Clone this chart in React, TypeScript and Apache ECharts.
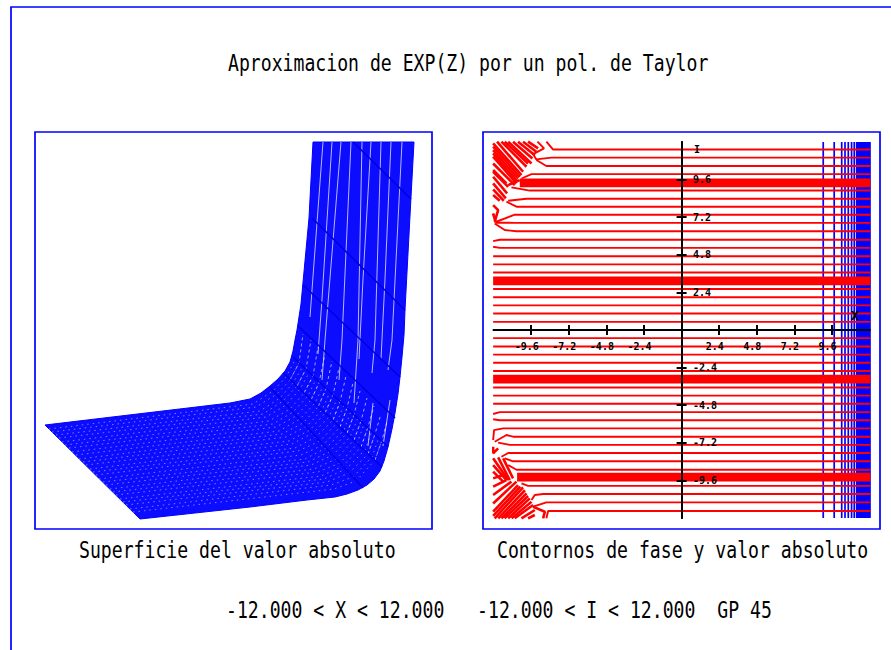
import React, { useEffect, useRef } from "react";
import * as echarts from "echarts";

type P = [number, number];

const BLUE = "#0000ff";
const RED = "#ff0000";

// ---- texts ----
const titleText = "Aproximacion de EXP(Z) por un pol. de Taylor";
const leftCaption = "Superficie del valor absoluto";
const rightCaption = "Contornos de fase y valor absoluto";
const rangeText = "-12.000 < X < 12.000   -12.000 < I < 12.000  GP 45";

// ---- right panel: axis ticks ----
const xTicks = [-9.6, -7.2, -4.8, -2.4, 2.4, 4.8, 7.2, 9.6];
const yTicks = [-9.6, -7.2, -4.8, -2.4, 2.4, 4.8, 7.2, 9.6];

// ---- right panel: absolute-value contours (x = const) ----
const modulusX = [9.04, 9.74, 10.22, 10.43, 10.64, 10.85, 11.02];
const modulusDenseX = [11.25, 11.42, 11.6, 11.78, 11.95];

// ---- right panel: phase contours, each with the bent part read from its left end ----
const phaseLines: { y: number; lead: P[] }[] = [
  { y: 11.52, lead: [[-8.63, 12.02], [-8.2, 11.52]] },
  { y: 11.0, lead: [[-9.2, 12.02], [-8.78, 11.59], [-9.48, 11.23], [-9.27, 10.89], [-8.31, 11.0]] },
  { y: 10.47, lead: [[-9.27, 10.85], [-8.63, 10.47]] },
  { y: 9.95, lead: [[-10.22, 9.67], [-9.58, 9.95]] },
  { y: 8.9, lead: [[-10.86, 9.1], [-9.69, 8.9]] },
  { y: 8.38, lead: [[-11.07, 8.25], [-9.9, 8.38]] },
  { y: 7.87, lead: [[-11.18, 8.19], [-10.54, 7.87]] },
  { y: 7.36, lead: [[-11.82, 6.91], [-10.65, 7.36]] },
  { y: 6.84, lead: [[-11.86, 6.85], [-10.65, 6.84]] },
  { y: 6.3, lead: [[-11.93, 6.8], [-11.29, 6.38], [-10.54, 6.3]] },
  { y: 5.76, lead: [[-12.03, 5.67], [-11.6, 5.76]] },
  { y: 5.24, lead: [[-12.03, 5.31], [-11.6, 5.24]] },
  { y: 4.71, lead: [[-12.03, 4.71]] },
  { y: 4.19, lead: [[-12.03, 4.19]] },
  { y: 3.67, lead: [[-12.03, 3.67]] },
  { y: 2.62, lead: [[-12.03, 2.62]] },
  { y: 2.09, lead: [[-12.03, 2.09]] },
  { y: 1.57, lead: [[-12.03, 1.57]] },
  { y: 1.05, lead: [[-12.03, 1.05]] },
  { y: 0.52, lead: [[-12.03, 0.52]] },
  { y: 0, lead: [[-12.03, 0]] },
  { y: -0.52, lead: [[-12.03, -0.52]] },
  { y: -1.05, lead: [[-12.03, -1.05]] },
  { y: -1.57, lead: [[-12.03, -1.57]] },
  { y: -2.09, lead: [[-12.03, -2.09]] },
  { y: -2.62, lead: [[-12.03, -2.62]] },
  { y: -3.67, lead: [[-12.03, -3.67]] },
  { y: -4.19, lead: [[-12.03, -4.19]] },
  { y: -4.71, lead: [[-12.03, -4.71]] },
  { y: -5.24, lead: [[-12.03, -5.36], [-11.61, -5.24]] },
  { y: -5.76, lead: [[-12.03, -5.7], [-11.61, -5.76]] },
  { y: -6.28, lead: [[-12.03, -7.02], [-11.97, -6.39], [-11.39, -6.28]] },
  { y: -6.81, lead: [[-11.93, -7.13], [-11.18, -6.7], [-10.76, -6.81]] },
  { y: -7.33, lead: [[-11.71, -7.19], [-10.97, -7.33]] },
  { y: -7.85, lead: [[-11.5, -8.09], [-11.07, -7.85]] },
  { y: -8.38, lead: [[-11.29, -8.19], [-10.76, -8.38]] },
  { y: -8.92, lead: [[-11.07, -8.62], [-10.54, -8.92]] },
  { y: -9.95, lead: [[-10.22, -9.79], [-9.8, -9.95]] },
  { y: -10.47, lead: [[-9.58, -10.85], [-9.37, -10.53], [-8.84, -10.47]] },
  { y: -11.0, lead: [[-9.48, -11.28], [-8.63, -11.0]] },
  { y: -11.55, lead: [[-8.63, -12.02], [-8.52, -11.55]] },
];
const phaseBands: P[] = [
  [-10.33, 9.39],
  [-12.03, 3.13],
  [-12.03, -3.14],
  [-10.5, -9.39],
];
const phaseEndX = 12.05;

// ---- right panel: the tangled corners ----
const tangles: P[][] = [
  [[-12.03, 11.91], [-10.22, 9.89]],
  [[-12.03, 11.7], [-10.33, 9.78]],
  [[-12.03, 11.48], [-10.44, 9.67]],
  [[-12.03, 11.27], [-10.49, 9.5]],
  [[-12.03, 11.06], [-10.54, 9.36]],
  [[-12.03, 10.63], [-10.65, 9.25]],
  [[-12.03, 10.21], [-11.18, 9.36]],
  [[-11.78, 12.02], [-10.12, 10.1]],
  [[-11.5, 12.02], [-9.9, 10.42]],
  [[-11.29, 12.02], [-9.8, 10.63]],
  [[-11.07, 12.02], [-9.58, 10.63]],
  [[-10.76, 12.02], [-9.52, 10.95]],
  [[-10.44, 12.02], [-9.37, 11.16]],
  [[-10.12, 12.02], [-9.27, 11.38]],
  [[-9.8, 12.02], [-9.16, 11.59]],
  [[-12.03, 10.1], [-11.07, 9.14]],
  [[-12.03, 9.78], [-11.14, 8.72]],
  [[-12.03, 9.36], [-11.22, 8.4]],
  [[-12.03, 8.97], [-11.35, 8.25]],
  [[-12.03, 8.61], [-11.61, 8.25]],
  [[-11.07, 9.25], [-10.33, 9.57]],
  [[-12.03, 7.97], [-11.71, 7.65], [-11.93, 6.91]],
  [[-12.03, 7.44], [-11.86, 6.85]],
  [[-11.93, -12.02], [-10.12, -10.04]],
  [[-11.7, -12.02], [-10.0, -10.23]],
  [[-11.5, -12.02], [-9.9, -10.43]],
  [[-11.3, -12.02], [-9.8, -10.6]],
  [[-11.07, -12.02], [-9.69, -10.75]],
  [[-10.85, -12.02], [-9.58, -10.96]],
  [[-10.65, -12.02], [-9.48, -11.17]],
  [[-10.22, -12.02], [-9.37, -11.49]],
  [[-9.8, -12.02], [-9.37, -11.81]],
  [[-12.03, -11.87], [-10.3, -10.0]],
  [[-12.03, -11.6], [-10.44, -9.9]],
  [[-12.03, -11.07], [-10.54, -9.68]],
  [[-12.03, -10.53], [-10.86, -9.68]],
  [[-12.03, -10.0], [-11.18, -9.58]],
  [[-12.03, -9.47], [-11.39, -9.26]],
  [[-12.03, -8.19], [-11.07, -9.58]],
  [[-12.03, -8.62], [-11.18, -9.58]],
  [[-12.03, -9.04], [-11.39, -9.68]],
  [[-11.71, -8.13], [-10.97, -9.58]],
  [[-11.39, -8.19], [-10.76, -9.47]],
  [[-9.48, -11.28], [-8.73, -11.6], [-8.84, -12.02]],
  [[-12.03, -7.45], [-12.03, -7.87], [-11.71, -7.56]],
];

// ---- left panel: projected surface (projection units) ----
const surfaceOutline: P[] = [
  [10, 104], [105, 10], [215, 22], [272, 29], [300, 32], [312, 35], [323, 39], [332, 44],
  [339, 50], [345, 58], [349, 68], [353, 82], [357, 100], [360, 116], [363, 135], [365, 152],
  [367, 172], [369, 194], [370, 219], [376, 332], [379, 387],
  [278, 387], [274, 311], [266, 225], [262, 199], [260, 189], [258, 178], [255, 167], [250, 158],
  [243, 150], [235, 143], [226, 136], [215, 130], [195, 126],
];
// cross lines of the mesh
const surfaceCross: P[][] = [
  [[318, 387], [376, 330]],
  [[277, 311], [370, 219]],
  [[268, 244], [365, 152]],
  [[263, 203], [360, 111]],
  [[258, 172], [353, 82]],
  [[248, 156], [347, 62]],
  [[235, 142], [328, 41]],
];
// light gaps of the mesh on the plate and knee
const surfaceSpeckle: P[][] = [
  [[14, 100], [218, 125], [238, 138], [251, 152], [260, 169]],
  [[17, 97], [221, 122], [242, 135], [255, 149], [264, 166]],
  [[21, 94], [225, 118], [245, 131], [258, 146], [268, 163]],
  [[24, 91], [228, 115], [248, 128], [262, 143], [271, 160]],
  [[27, 87], [231, 112], [251, 124], [265, 140], [274, 156]],
  [[30, 84], [234, 108], [255, 120], [269, 136], [278, 153]],
  [[34, 81], [238, 105], [258, 117], [273, 133], [281, 150]],
  [[37, 77], [241, 102], [261, 113], [276, 129], [284, 146]],
  [[41, 74], [244, 98], [265, 110], [280, 126], [288, 143]],
  [[44, 70], [247, 95], [268, 106], [283, 122], [291, 140]],
  [[48, 67], [251, 92], [272, 103], [287, 119], [295, 137]],
  [[51, 64], [254, 88], [275, 99], [290, 116], [298, 134]],
  [[55, 60], [257, 85], [278, 96], [294, 112], [302, 130]],
  [[58, 57], [260, 81], [281, 92], [298, 109], [305, 127]],
  [[61, 54], [263, 78], [285, 88], [301, 105], [309, 124]],
  [[64, 50], [266, 74], [288, 84], [305, 102], [312, 121]],
  [[68, 47], [270, 70], [291, 81], [309, 99], [316, 118]],
  [[71, 44], [273, 67], [294, 77], [312, 96], [319, 114]],
  [[75, 40], [276, 64], [298, 74], [315, 92], [323, 111]],
  [[78, 37], [279, 60], [301, 70], [319, 89], [326, 108]],
  [[81, 34], [283, 57], [305, 66], [322, 85], [329, 105]],
  [[85, 30], [286, 53], [308, 63], [326, 82], [333, 102]],
  [[88, 27], [289, 50], [311, 60], [330, 79], [337, 98]],
  [[91, 24], [292, 47], [314, 56], [333, 75], [340, 95]],
  [[95, 20], [296, 44], [318, 52], [337, 72], [344, 92]],
  [[98, 17], [299, 40], [321, 48], [340, 69], [347, 89]],
];
// stronger pale dashes where the mesh opens up at the knee
const surfaceKnee: P[][] = [
  [[255, 149], [264, 166], [268, 195]],
  [[262, 143], [271, 160], [276, 189]],
  [[269, 136], [278, 153], [283, 182]],
  [[276, 129], [284, 146], [290, 175]],
  [[283, 122], [291, 140], [297, 168]],
  [[290, 116], [298, 134], [304, 161]],
  [[298, 109], [305, 127], [311, 153]],
  [[305, 102], [312, 121], [318, 146]],
  [[312, 96], [319, 114], [325, 138]],
  [[319, 89], [326, 108], [332, 131]],
  [[326, 82], [333, 102], [339, 123]],
  [[333, 75], [340, 95], [346, 115]],
  [[340, 69], [347, 89], [352, 107]],
];
// pale streaks running down the wall
const surfaceStreaks: P[][] = [
  [[288, 387], [275, 212]],
  [[297, 387], [287, 230], [283, 175]],
  [[306, 387], [290, 189], [287, 149]],
  [[316, 387], [307, 189], [304, 149]],
  [[327, 387], [323, 189], [319, 126]],
  [[336, 387], [328, 250], [324, 170]],
  [[346, 387], [340, 189], [337, 156]],
  [[356, 387], [350, 250], [346, 170]],
  [[367, 387], [357, 189], [353, 159]],
  [[338, 126], [333, 83]],
  [[355, 129], [348, 83]],
];

const poly = (name: string, data: P[], x: number, color: string, width: number, z: number, extra: any = {}) => ({
  type: "line",
  name,
  xAxisIndex: x,
  yAxisIndex: x,
  data,
  showSymbol: false,
  symbol: "none",
  silent: true,
  clip: false,
  z,
  lineStyle: { color, width, ...extra },
});

export default function App() {
  const ref = useRef<HTMLDivElement>(null);
  useEffect(() => {
    document.body.style.margin = "0";
    const chart = echarts.init(ref.current!, undefined, { renderer: "svg" });
    const mono = "'DejaVu Sans Mono', monospace";
    const bigText = (text: string, x: number, y: number) => ({
      type: "text",
      x,
      y,
      scaleY: 1.28,
      silent: true,
      style: { text, fontFamily: mono, fontSize: 18.14, fill: "#000", textVerticalAlign: "middle" },
    });
    const axisLine = { onZero: true, onZeroAxisIndex: 1, lineStyle: { color: "#000", width: 2 } };
    const tickLine = { color: "#000", width: 2 };
    const labelStyle = { color: "#000", fontFamily: mono, fontWeight: "bold" as const, fontSize: 10 };

    const series: any[] = [
      {
        type: "custom",
        name: "surface",
        coordinateSystem: "cartesian2d",
        xAxisIndex: 0,
        yAxisIndex: 0,
        data: surfaceOutline,
        silent: true,
        z: 1,
        renderItem: (params: any, api: any) =>
          params.dataIndex === 0
            ? {
                type: "polygon",
                shape: { points: surfaceOutline.map((p) => api.coord(p)) },
                style: { fill: "#0c0cff", stroke: BLUE, lineWidth: 1 },
              }
            : null,
      },
      ...surfaceSpeckle.map((d, i) =>
        poly(`gap${i}`, d, 0, "#ffffff", 1, 2, { opacity: 0.45, type: [1.5, 4] })
      ),
      ...surfaceKnee.map((d, i) =>
        poly(`knee${i}`, d, 0, "#ffffff", 1, 2, { opacity: 0.6, type: [3, 3] })
      ),
      ...surfaceStreaks.map((d, i) => poly(`streak${i}`, d, 0, "#ffffff", 1, 3, { opacity: 0.7 })),
      ...surfaceCross.map((d, i) => poly(`cross${i}`, d, 0, "#0000e0", 1.6, 4)),
      ...modulusX.map((x, i) =>
        poly(`mod${i}`, [[x, -12], [x, 12]], 1, BLUE, 1.7, 2)
      ),
      ...modulusDenseX.map((x, i) =>
        poly(`modDense${i}`, [[x, -12], [x, 12]], 1, BLUE, 4, 2)
      ),
      ...phaseLines.map((l, i) =>
        poly(`phase${i}`, [...l.lead, [phaseEndX, l.y]], 1, RED, 1.9, 3)
      ),
      ...phaseBands.map((b, i) =>
        poly(`band${i}`, [b, [phaseEndX, b[1]]], 1, RED, 8.8, 3, { cap: "butt" })
      ),
      ...tangles.map((d, i) => poly(`tangle${i}`, d, 1, RED, 2.6, 3)),
    ];

    chart.setOption({
      animation: false,
      backgroundColor: "#fff",
      grid: [
        { left: 35, top: 132, width: 397, height: 397, outerBoundsMode: "none" },
        { left: 493.6, top: 142, width: 376, height: 376, outerBoundsMode: "none" },
      ],
      xAxis: [
        { type: "value", gridIndex: 0, min: 0, max: 397, show: false },
        {
          type: "value",
          gridIndex: 1,
          min: -12,
          max: 12,
          position: "bottom",
          z: 10,
          axisLine,
          splitLine: { show: false },
          axisTick: { show: true, customValues: xTicks, length: 5, lineStyle: tickLine },
          axisLabel: { show: true, customValues: xTicks, margin: -177, padding: [0, 9, 0, 0], ...labelStyle },
        },
        {
          type: "value",
          gridIndex: 1,
          min: -12,
          max: 12,
          position: "top",
          z: 10,
          axisLine,
          splitLine: { show: false },
          axisTick: { show: true, customValues: xTicks, length: 5, lineStyle: tickLine },
          axisLabel: { show: false },
        },
      ],
      yAxis: [
        { type: "value", gridIndex: 0, min: 0, max: 397, show: false },
        {
          type: "value",
          gridIndex: 1,
          min: -12,
          max: 12,
          position: "right",
          z: 10,
          axisLine,
          splitLine: { show: false },
          axisTick: { show: true, customValues: yTicks, length: 5, lineStyle: tickLine },
          axisLabel: { show: true, customValues: yTicks, margin: -176.6, ...labelStyle },
        },
        {
          type: "value",
          gridIndex: 1,
          min: -12,
          max: 12,
          position: "left",
          z: 10,
          axisLine,
          splitLine: { show: false },
          axisTick: { show: true, customValues: yTicks, length: 5, lineStyle: tickLine },
          axisLabel: { show: false },
        },
      ],
      series,
      graphic: [
        {
          type: "polyline",
          silent: true,
          shape: { points: [[891, 7], [11, 7], [11, 650]] },
          style: { stroke: BLUE, lineWidth: 1.7, fill: "none" },
        },
        {
          type: "rect",
          silent: true,
          shape: { x: 35, y: 132, width: 397, height: 397 },
          style: { stroke: BLUE, lineWidth: 1.7, fill: "none" },
        },
        {
          type: "rect",
          silent: true,
          shape: { x: 483, y: 132, width: 397, height: 397 },
          style: { stroke: BLUE, lineWidth: 1.7, fill: "none" },
        },
        bigText(titleText, 228, 63),
        bigText(leftCaption, 79, 550),
        bigText(rightCaption, 497, 550),
        bigText(rangeText, 226, 610),
        {
          type: "text",
          x: 694,
          y: 149,
          z: 20,
          silent: true,
          style: { text: "I", fontFamily: mono, fontSize: 10, fontWeight: "bold", fill: "#000", textVerticalAlign: "middle" },
        },
        {
          type: "text",
          x: 851,
          y: 315,
          z: 20,
          silent: true,
          style: { text: "X", fontFamily: mono, fontSize: 13, fontWeight: "bold", fill: "#000", textVerticalAlign: "middle" },
        },
      ],
    });
    return () => chart.dispose();
  }, []);
  return <div ref={ref} style={{ position: "absolute", left: 0, top: 0, width: 891, height: 650 }} />;
}
